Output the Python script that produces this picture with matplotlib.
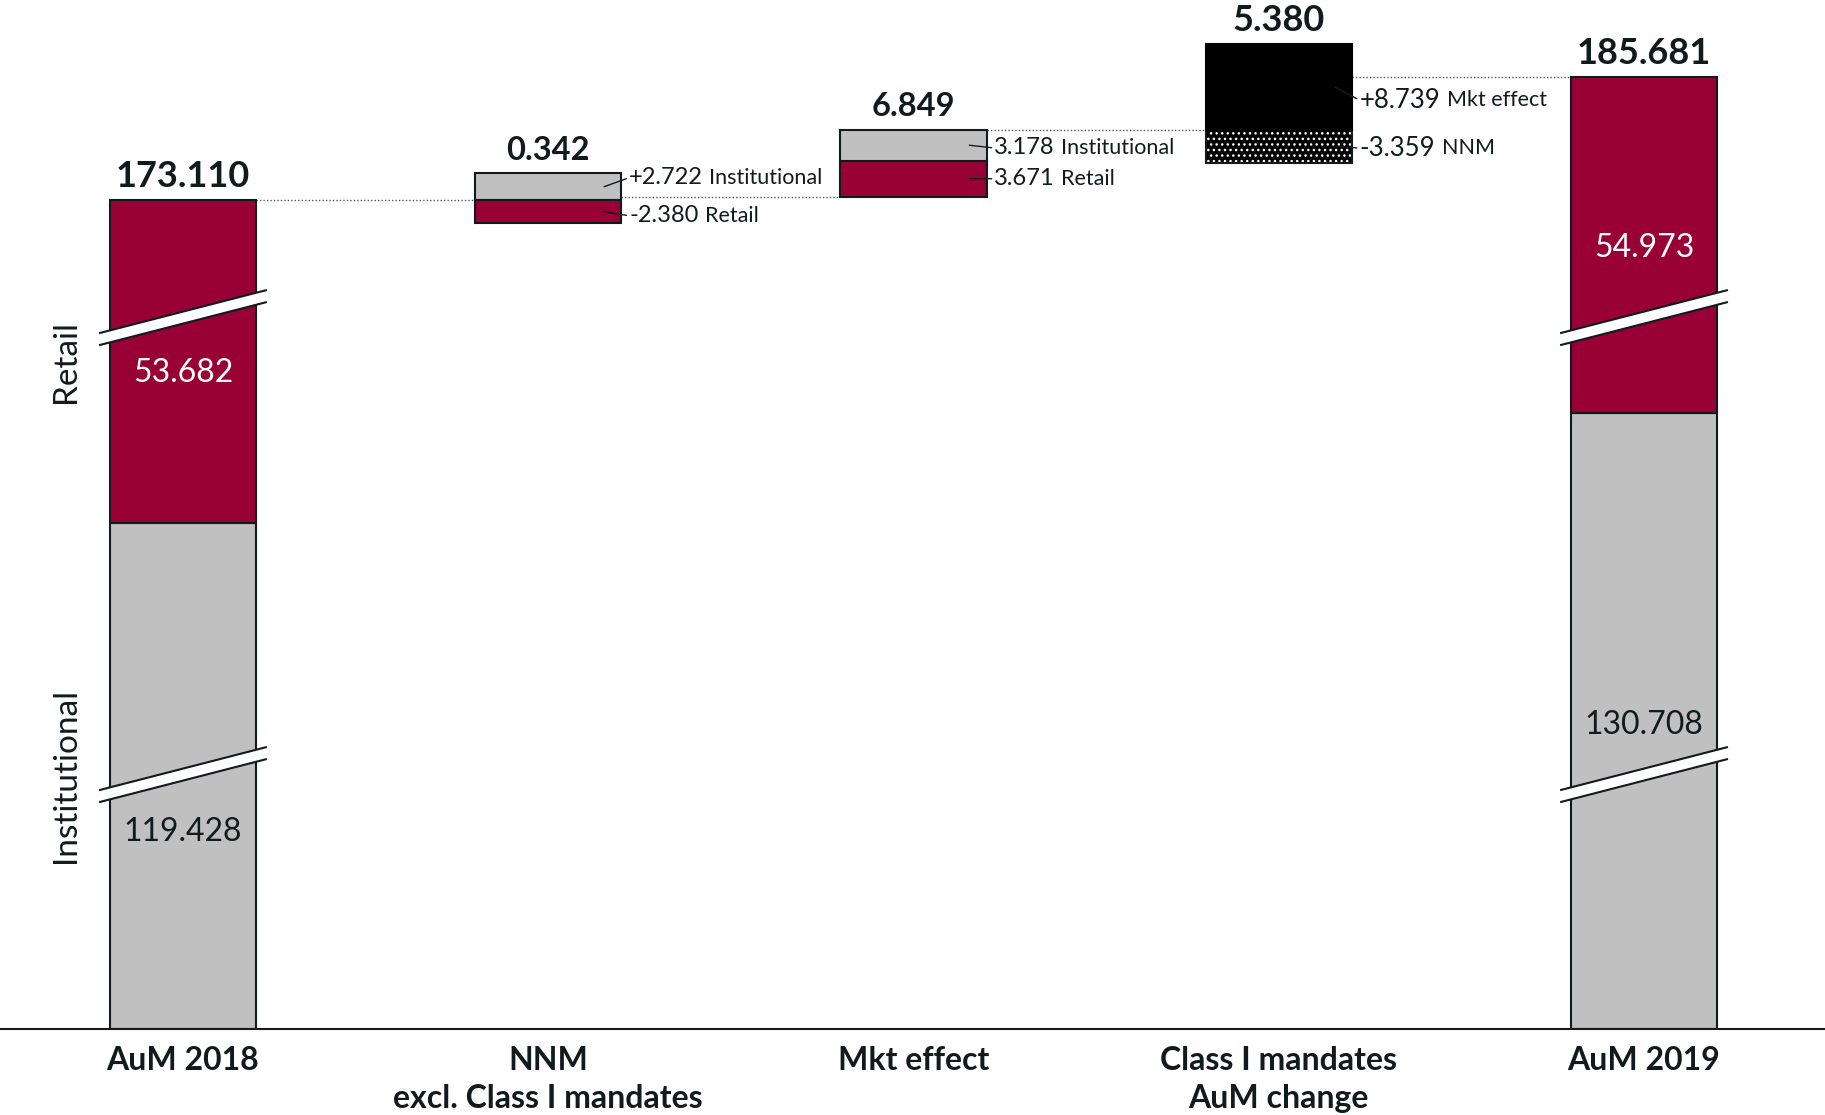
import numpy as np
import matplotlib.pyplot as plt
from matplotlib.patches import Polygon
from matplotlib.transforms import blended_transform_factory

plt.rcParams['font.family'] = ['Lato', 'DejaVu Sans']

# Données (AuM, en milliards)
categories = ["AuM 2018", "NNM\nexcl. Class I mandates", "Mkt effect",
              "Class I mandates\nAuM change", "AuM 2019"]
inst_2018, retail_2018 = 119.428, 53.682
nnm_inst, nnm_retail = 2.722, -2.380
mkt_retail, mkt_inst = 3.671, 3.178
class1_nnm, class1_mkt = -3.359, 8.739
inst_2019, retail_2019 = 130.708, 54.973

RED = "#990033"
GREY = "#c0c0c0"
INK = "#111b1e"
W = 0.4

# axe coupé : les intervalles de BREAKS sont écrasés dans une bande étroite
PX_PER_UNIT = 9.78
BREAKS = [(25.4, 94.3), (139.8, 161.7)]
GAP = 12
P_TOP = 1029

knots_v, knots_p = [0.0], [0.0]
for lo, hi in BREAKS:
    knots_p.append(knots_p[-1] + (lo - knots_v[-1]) * PX_PER_UNIT)
    knots_v.append(lo)
    knots_p.append(knots_p[-1] + GAP)
    knots_v.append(hi)
knots_p.append(knots_p[-1] + (400 - knots_v[-1]) * PX_PER_UNIT)
knots_v.append(400.0)
knots_v, knots_p = np.array(knots_v), np.array(knots_p)


def fwd(v):
    return np.interp(v, knots_v, knots_p)


def inv(p):
    return np.interp(p, knots_p, knots_v)


def seg_mid(bottom, height):
    return inv((fwd(bottom) + fwd(bottom + height)) / 2)


fig = plt.figure(figsize=(18.25, 11.15), dpi=100)
ax = fig.add_axes([0, 86 / 1115, 1, P_TOP / 1115])
ax.set_yscale('function', functions=(fwd, inv))

edge = dict(edgecolor=INK, linewidth=1.5)

# AuM 2018
total_2018 = inst_2018 + retail_2018
ax.bar(0, inst_2018, W, color=GREY, **edge)
ax.bar(0, retail_2018, W, bottom=inst_2018, color=RED, **edge)

# NNM
start1 = total_2018
ax.bar(1, nnm_inst, W, bottom=start1, color=GREY, **edge)
ax.bar(1, nnm_retail, W, bottom=start1, color=RED, **edge)
nnm_net = nnm_inst + nnm_retail

# Mkt effect
start2 = start1 + nnm_net
ax.bar(2, mkt_retail, W, bottom=start2, color=RED, **edge)
ax.bar(2, mkt_inst, W, bottom=start2 + mkt_retail, color=GREY, **edge)
mkt_net = mkt_retail + mkt_inst

# Class I mandates
start3 = start2 + mkt_net
ax.bar(3, class1_nnm, W, bottom=start3, color='black', hatch='...',
       edgecolor='white', linewidth=0)
ax.bar(3, class1_nnm, W, bottom=start3, fill=False, **edge)
ax.bar(3, class1_mkt, W, bottom=start3, color='black', edgecolor='black', linewidth=1.5)
class1_net = class1_nnm + class1_mkt

# AuM 2019
total_2019 = inst_2019 + retail_2019
ax.bar(4, inst_2019, W, color=GREY, **edge)
ax.bar(4, retail_2019, W, bottom=inst_2019, color=RED, **edge)

# lignes de liaison pointillées
levels = [total_2018, start2, start3, start3 + class1_net]
for i, lv in enumerate(levels):
    ax.plot([i + W / 2, i + 1 - W / 2], [lv, lv], ls=(0, (1, 1.5)),
            color='#555555', lw=1, zorder=0)

# marques de coupure
band_tr = blended_transform_factory(ax.transData, ax.transAxes)
SLOPE = 94
for xc in (0, 4):
    for lo, hi in BREAKS:
        pc = fwd(lo) + GAP / 2
        xs = np.array([xc - W / 2 - 0.027, xc + W / 2 + 0.027])
        yc = pc + SLOPE * (xs - xc)
        up, dn = (yc + 6) / P_TOP, (yc - 6) / P_TOP
        ax.add_patch(Polygon([(xs[0], dn[0]), (xs[1], dn[1]), (xs[1], up[1]), (xs[0], up[0])],
                             closed=True, transform=band_tr, facecolor='white',
                             edgecolor='none', zorder=3))
        ax.plot(xs, up, color=INK, lw=1.5, transform=band_tr, zorder=4)
        ax.plot(xs, dn, color=INK, lw=1.5, transform=band_tr, zorder=4)

# totaux
tops = [total_2018, start1 + nnm_inst, start3, start3 + class1_mkt, total_2019]
totals = [total_2018, nnm_net, mkt_net, class1_net, total_2019]
sizes = [26, 23.5, 23.5, 26, 26]
for i, (top, val, fs) in enumerate(zip(tops, totals, sizes)):
    ax.annotate(f"{val:.3f}", xy=(i, top), xytext=(0, 9.5), textcoords='offset points',
                ha='center', va='baseline', fontsize=fs, fontweight='bold', color=INK)

# valeurs dans les barres
inside = [(0, 0, inst_2018, INK, -40.5), (0, inst_2018, retail_2018, 'white', -8.5),
          (4, 0, inst_2019, INK, -3), (4, inst_2019, retail_2019, 'white', -2)]
for x, bottom, h, col, dy in inside:
    ax.annotate(f"{h:.3f}", xy=(x, seg_mid(bottom, h)), xytext=(0, dy),
                textcoords='offset points', ha='center', va='center',
                fontsize=23, color=col)

# annotations latérales
notes = [(1, start1, nnm_inst, f"{nnm_inst:+.3f}", "Institutional", 6.5, 17),
         (1, start1, nnm_retail, f"{nnm_retail:+.3f}", "Retail", -3, 17),
         (2, start2 + mkt_retail, mkt_inst, f"{mkt_inst:.3f}", "Institutional", -2, 17),
         (2, start2, mkt_retail, f"{mkt_retail:.3f}", "Retail", 0, 17),
         (3, start3, class1_mkt, f"{class1_mkt:+.3f}", "Mkt effect", -9.5, 18.5),
         (3, start3, class1_nnm, f"{class1_nnm:+.3f}", "NNM", -1.5, 18.5)]
for x, bottom, h, num, word, dy, fs in notes:
    t = ax.annotate(num, xy=(x + W / 2 - 0.047, seg_mid(bottom, h)), xytext=(18, dy),
                    textcoords='offset points', ha='left', va='center', fontsize=fs,
                    color=INK, zorder=5,
                    arrowprops=dict(arrowstyle='-', color=INK, lw=1, relpos=(0, 0.5),
                                    shrinkA=0, shrinkB=0))
    ax.annotate(word, xy=(1, 0.5), xycoords=t, xytext=(4.5, 0), textcoords='offset points',
                ha='left', va='center', fontsize=15.5, color=INK)

# libellés verticaux
for name, bottom, h in [("Institutional", 0, inst_2018), ("Retail", inst_2018, retail_2018)]:
    ax.text(-0.32, seg_mid(bottom, h), name, rotation=90, ha='center', va='center',
            fontsize=24, color=INK)

ax.set_xticks(range(len(categories)), categories, fontsize=23, fontweight='bold',
              color=INK, linespacing=1.4)
ax.tick_params(axis='x', length=0, pad=12)
ax.yaxis.set_visible(False)
for s in ['top', 'left', 'right']:
    ax.spines[s].set_visible(False)
ax.spines['bottom'].set_color(INK)
ax.spines['bottom'].set_linewidth(1.5)
ax.set_xlim(-0.501, 4.4955)
ax.set_ylim(0, inv(P_TOP))

fig.savefig('out.png', dpi=100)
